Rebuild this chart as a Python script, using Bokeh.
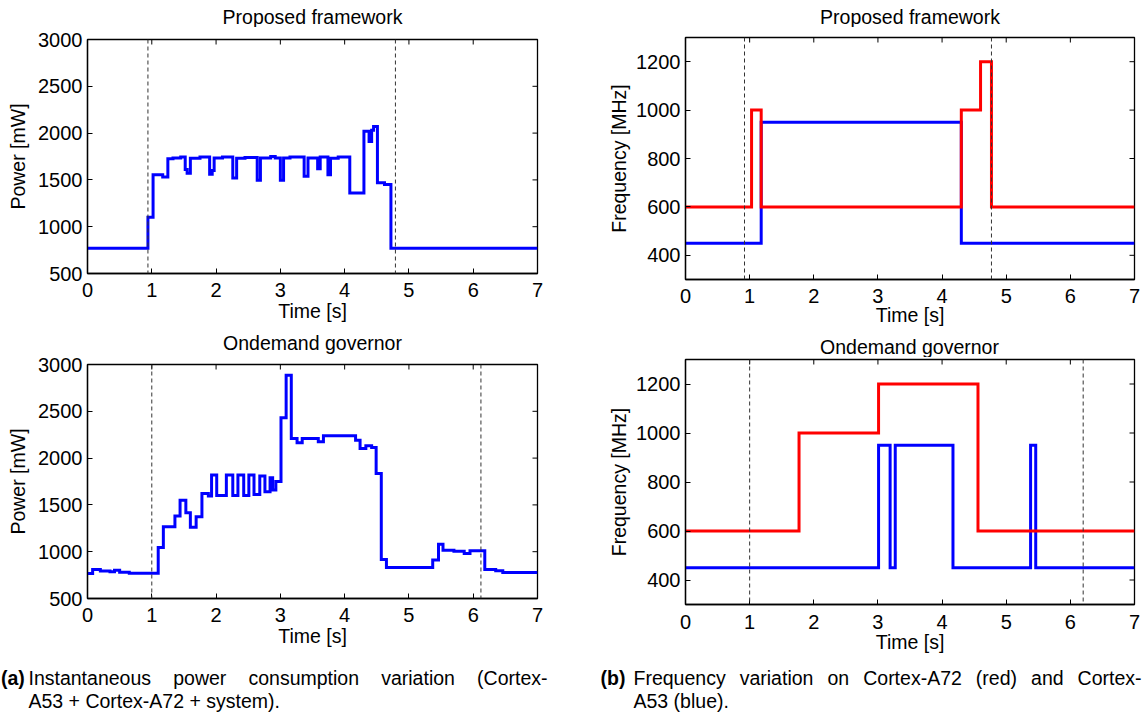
import math
from bokeh.plotting import figure
from bokeh.models import Range1d, FixedTicker, Span, Label
from bokeh.layouts import column, row
from bokeh.embed import file_html
from bokeh.resources import INLINE

# ---------------- data ----------------
time_ticks = [0, 1, 2, 3, 4, 5, 6, 7]
power_ticks = [500, 1000, 1500, 2000, 2500, 3000]
freq_ticks = [400, 600, 800, 1000, 1200]
t_end = 7.0

# (a) power, proposed framework: step start times [s] and values [mW]
pow_prop_t = [0.00, 0.94, 1.02, 1.17, 1.25, 1.33, 1.45, 1.52, 1.55, 1.60, 1.75, 1.90, 1.94, 1.97,
              2.10, 2.26, 2.32, 2.45, 2.64, 2.69, 2.85, 2.92, 3.00, 3.05, 3.15, 3.37, 3.43, 3.58,
              3.62, 3.74, 3.78, 3.90, 4.08, 4.30, 4.38, 4.42, 4.45, 4.51, 4.62, 4.72]
pow_prop_v = [770, 1100, 1555, 1530, 1725, 1735, 1745, 1610, 1570, 1730, 1745, 1560, 1600, 1735,
              1745, 1520, 1730, 1740, 1495, 1735, 1750, 1735, 1495, 1735, 1745, 1540, 1735, 1620,
              1745, 1555, 1730, 1745, 1360, 2020, 1910, 2030, 2070, 1470, 1450, 770]

# (a) power, ondemand governor
pow_ond_t = [0.00, 0.08, 0.20, 0.35, 0.42, 0.50, 0.65, 1.10, 1.18, 1.36, 1.44, 1.53, 1.60, 1.69,
             1.78, 1.88, 1.93, 2.01, 2.16, 2.26, 2.34, 2.43, 2.51, 2.59, 2.68, 2.76, 2.84, 2.88,
             2.93, 3.01, 3.09, 3.17, 3.26, 3.34, 3.59, 3.67, 4.17, 4.24, 4.33, 4.42, 4.49, 4.57,
             4.65, 5.37, 5.46, 5.53, 5.70, 5.86, 5.95, 6.18, 6.35, 6.46]
pow_ond_v = [767, 810, 795, 785, 803, 780, 770, 1045, 1267, 1381, 1549, 1417, 1260, 1374,
             1623, 1594, 1820, 1600, 1820, 1600, 1820, 1600, 1820, 1610, 1810, 1640, 1790, 1660,
             1750, 2430, 2886, 2210, 2163, 2210, 2174, 2238, 2192, 2103, 2131, 2113, 1835, 917,
             831, 910, 1080, 1016, 1005, 981, 1010, 810, 796, 778]

# (b) frequency, proposed framework [MHz]
a72_prop_t = [0.00, 1.03, 1.18, 4.30, 4.60, 4.77]
a72_prop_v = [600, 1000, 600, 1000, 1200, 600]
a53_prop_t = [0.00, 1.18, 4.30]
a53_prop_v = [450, 950, 450]

# (b) frequency, ondemand governor
a72_ond_t = [0.00, 1.77, 3.01, 4.56]
a72_ond_v = [600, 1000, 1200, 600]
a53_ond_t = [0.00, 3.01, 3.19, 3.27, 4.17, 5.38, 5.46]
a53_ond_v = [450, 950, 450, 950, 450, 950, 450]

# dashed markers (start / end of the application)
marks_pow_prop = [0.94, 4.79]
marks_freq_prop = [0.92, 4.77]
marks_pow_ond = [1.00, 6.12]
marks_freq_ond = [1.00, 6.20]

FONT = "Liberation Sans"
FS = "19.5px"
TICK_FS = "20px"
BLUE = "#0000FF"
RED = "#FF0000"
LEFT_W = 598
RIGHT_W = 547


def style_axis(ax):
    ax.major_tick_in = 5
    ax.major_tick_out = 0
    ax.minor_tick_line_color = None
    ax.major_tick_line_color = "black"
    ax.major_tick_line_width = 1
    ax.axis_line_color = "black"
    ax.axis_line_width = 1.3
    ax.major_label_text_font = FONT
    ax.major_label_text_font_size = TICK_FS
    ax.major_label_text_color = "black"
    ax.axis_label_text_font = FONT
    ax.axis_label_text_font_size = FS
    ax.axis_label_text_font_style = "normal"
    ax.axis_label_text_color = "black"


def panel(width, height, bl, br, bt, bb, yr, yticks, ylabel, ylab_standoff,
          xtick_standoff, xlab_standoff, marks, series):
    p = figure(width=width, height=height, output_backend="svg", toolbar_location=None,
               title=None, frame_align=False,
               x_range=Range1d(0, t_end), y_range=Range1d(*yr),
               min_border_left=bl, min_border_right=br, min_border_top=bt, min_border_bottom=bb)
    p.xgrid.visible = False
    p.ygrid.visible = False
    p.outline_line_color = "black"
    p.outline_line_width = 1.3
    p.background_fill_color = "white"
    p.border_fill_color = "white"
    xa = p.xaxis[0]
    ya = p.yaxis[0]
    xa.ticker = FixedTicker(ticks=time_ticks)
    ya.ticker = FixedTicker(ticks=yticks)
    style_axis(xa)
    style_axis(ya)
    xa.axis_label = "Time [s]"
    ya.axis_label = ylabel
    xa.major_label_standoff = xtick_standoff
    xa.axis_label_standoff = xlab_standoff
    ya.major_label_standoff = 5
    ya.axis_label_standoff = ylab_standoff
    # inward ticks on the top and right edges of the box (half of each dash is clipped)
    p.scatter(time_ticks, [yr[1]] * len(time_ticks), marker="dash", angle=math.pi / 2,
              size=10, line_color="black", line_width=1)
    p.scatter([t_end] * len(yticks), yticks, marker="dash", size=10,
              line_color="black", line_width=1)
    for m in marks:
        p.add_layout(Span(location=m, dimension="height", line_color="#333333",
                          line_dash="4 3", line_width=1))
    for t, v, c in series:
        xs = t + [t_end]
        ys = v + [v[-1]]
        p.step(xs, ys, mode="after", line_color=c, line_width=3, line_join="miter")
    return p


def strip(width, height):
    s = figure(width=width, height=height, output_backend="svg", toolbar_location=None,
               title=None, frame_align=False,
               x_range=Range1d(0, width), y_range=Range1d(height, 0),
               x_axis_location=None, y_axis_location=None,
               min_border_left=0, min_border_right=0, min_border_top=0, min_border_bottom=0)
    s.xgrid.visible = False
    s.ygrid.visible = False
    s.outline_line_color = None
    s.background_fill_color = "white"
    s.border_fill_color = "white"
    return s


def text(fig, x, y, txt, align="left", bold=False):
    # y is the vertical middle of the text line
    fig.add_layout(Label(x=x, y=y, text=txt, text_align=align, text_baseline="middle",
                         text_font=FONT, text_font_size=FS, text_color="black",
                         text_font_style="bold" if bold else "normal"))


# ---------------- left column: (a) power ----------------
t1l = strip(LEFT_W, 27)
text(t1l, 312, 16, "Proposed framework", "center")
tl = panel(LEFT_W, 305, 87, 61, 12, 59, (500, 3000), power_ticks, "Power [mW]", 6, 9, 0,
           marks_pow_prop, [(pow_prop_t, pow_prop_v, BLUE)])
t2l = strip(LEFT_W, 22)
text(t2l, 312, 10.5, "Ondemand governor", "center")
bl = panel(LEFT_W, 306, 87, 61, 10, 62, (500, 3000), power_ticks, "Power [mW]", 6, 9, 0,
           marks_pow_ond, [(pow_ond_t, pow_ond_v, BLUE)])
capl = strip(LEFT_W, 56)
L1, L2 = 17, 40
text(capl, 0.5, L1, "(a)", "left", True)
for x, w in [(28, "Instantaneous"), (172.7, "power"), (248, "consumption"), (380.7, "variation")]:
    text(capl, x, L1, w)
text(capl, 547, L1, "(Cortex-", "right")
text(capl, 28, L2, "A53 + Cortex-A72 + system).")

# ---------------- right column: (b) frequency ----------------
t1r = strip(RIGHT_W, 27)
text(t1r, 311.5, 16, "Proposed framework", "center")
tr = panel(RIGHT_W, 308, 87, 11, 10, 56, (300, 1300), freq_ticks, "Frequency [MHz]", 3, 9, -2,
           marks_freq_prop, [(a53_prop_t, a53_prop_v, BLUE), (a72_prop_t, a72_prop_v, RED)])
t2r = strip(RIGHT_W, 22)
text(t2r, 311, 11, "Ondemand governor", "center")
br = panel(RIGHT_W, 306, 87, 11, 2, 59, (300, 1300), freq_ticks, "Frequency [MHz]", 3, 10, -1,
           marks_freq_ond, [(a53_ond_t, a53_ond_v, BLUE), (a72_ond_t, a72_ond_v, RED)])
capr = strip(RIGHT_W, 53)
R1, R2 = 14, 37
text(capr, 2, R1, "(b)", "left", True)
for x, w in [(35, "Frequency"), (141.2, "variation"), (228.9, "on"), (264.7, "Cortex-A72"),
             (377.3, "(red)"), (432.6, "and")]:
    text(capr, x, R1, w)
text(capr, 543, R1, "Cortex-", "right")
text(capr, 35, R2, "A53 (blue).")

layout = row(column(t1l, tl, t2l, bl, capl), column(t1r, tr, t2r, br, capr))
open("out.html", "w").write(file_html(layout, INLINE))
